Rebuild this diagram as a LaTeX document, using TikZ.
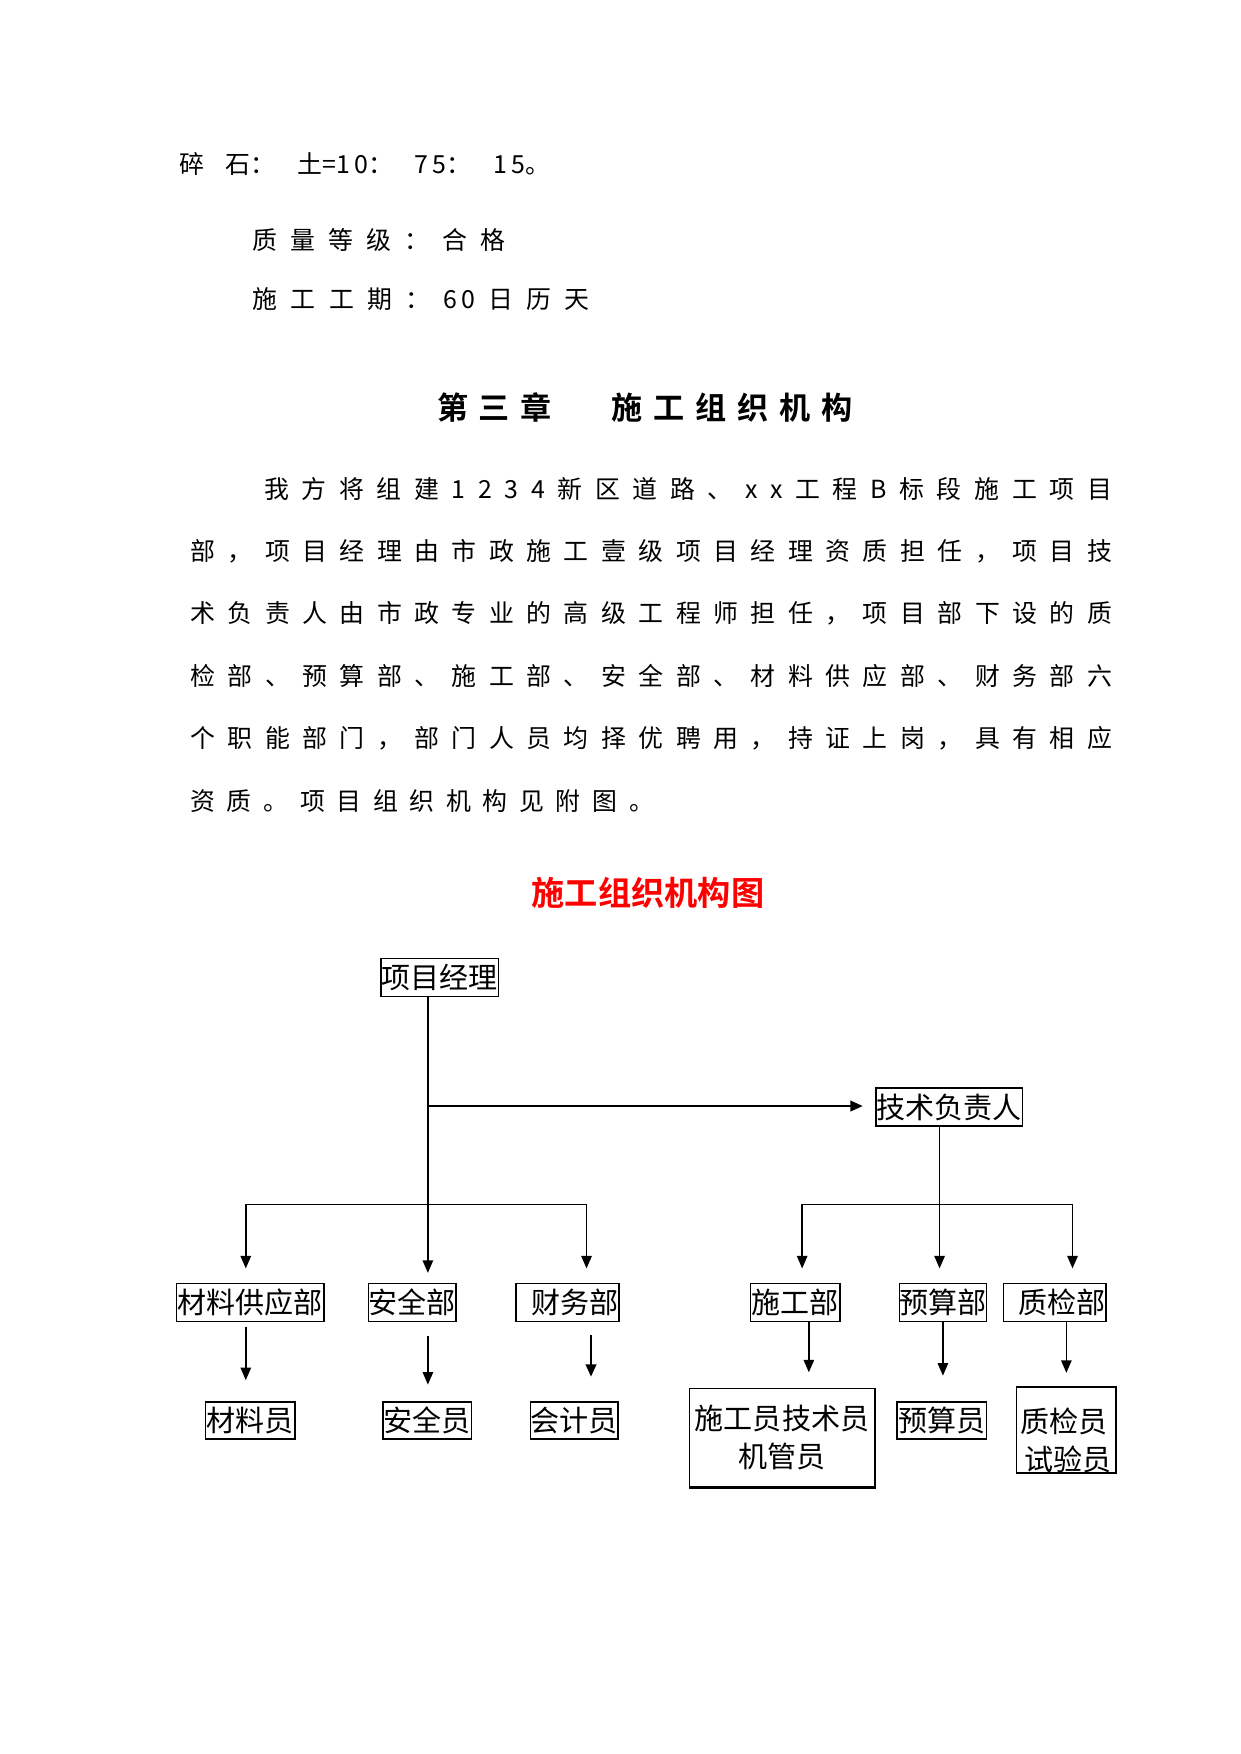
\documentclass[tikz,border=0pt]{standalone}
\usepackage{fontspec}
\usetikzlibrary{arrows.meta}
\newfontfamily\cjk{Noto Sans CJK SC}[BoldFont={Noto Sans CJK SC Bold}]
\newlength\pxu
\setlength\pxu{0.5383pt}
% spread the characters of one line over a given width
\def\spreadtxt#1{\spreadA#1\relax}
\def\spreadA#1{#1\spreadB}
\def\spreadB#1{\ifx\relax#1\else\hfil#1\expandafter\spreadB\fi}
\newcommand{\tline}[2]{\makebox[#1\pxu][s]{\spreadtxt{#2}}}

\begin{document}
\begin{tikzpicture}[x=0.5383pt, y=-0.5383pt,
  body/.style={anchor=west, inner sep=0pt, font=\cjk\fontsize{12}{14}\selectfont},
  head/.style={anchor=west, inner sep=0pt, font=\cjk\bfseries\fontsize{15}{17}\selectfont},
  box/.style={draw, line width=0.7pt, inner sep=0pt, minimum height=34\pxu, font=\cjk\fontsize{14}{18.3}\selectfont},
  arr/.style={line width=0.7pt, -{Triangle[length=6pt,width=5pt]}}]
      \useasboundingbox (0,0) rectangle (1110,1570);
      % text
      \node[body] (t1) at (160,147) {\tline{332}{碎{石：}{土=1\,0：}{7\,5：}{1\,5。}}};
      \node[body] (t2) at (226,215) {\tline{226}{质量等级：合格}};
      \node[body] (t3) at (226,268) {\tline{301}{施工工期：{6\,0}日历天}};
      \node[head] (h1) at (391,365) {\tline{102}{第三章}};
      \node[head] (h2) at (547,365) {\tline{216}{施工组织机构}};
      \node[body] (p1) at (236,438) {\tline{759}{我方将组建1234新区道路、xx工程B标段施工项目}};
      \node[body] (p2) at (170,493) {\tline{825}{部，项目经理由市政施工壹级项目经理资质担任，项目技}};
      \node[body] (p3) at (170,549) {\tline{825}{术负责人由市政专业的高级工程师担任，项目部下设的质}};
      \node[body] (p4) at (170,605) {\tline{825}{检部、预算部、施工部、安全部、材料供应部、财务部六}};
      \node[body] (p5) at (170,661) {\tline{825}{个职能部门，部门人员均择优聘用，持证上岗，具有相应}};
      \node[body] (p6) at (170,717) {\tline{415}{资质。项目组织机构见附图。}};
      \node[inner sep=0pt, text=red, font=\cjk\bfseries\fontsize{16}{18}\selectfont] (title) at (580,799) {施工组织机构图};
      % chart boxes
      \node[box, minimum width=105\pxu] (pm) at (393.5,875) {项目经理};
      \node[box, minimum width=131\pxu] (tech) at (849.5,991) {技术负责人};
      \node[box, minimum width=132\pxu] (clb) at (224,1166) {材料供应部};
      \node[box, minimum width=78\pxu] (aqb) at (369,1166) {安全部};
      \node[box, minimum width=92\pxu] (cwb) at (508,1166) {\hspace{0.5em}财务部};
      \node[box, minimum width=80\pxu] (sgb) at (712,1166) {施工部};
      \node[box, minimum width=78\pxu] (ysb) at (844,1166) {预算部};
      \node[box, minimum width=92\pxu] (zjb) at (944,1166) {\hspace{0.5em}质检部};
      \node[box, minimum width=80\pxu, minimum height=33\pxu] (cly) at (224,1271.5) {材料员};
      \node[box, minimum width=79\pxu, minimum height=33\pxu] (aqy) at (382.5,1271.5) {安全员};
      \node[box, minimum width=78\pxu, minimum height=33\pxu] (kjy) at (514,1271.5) {会计员};
      \node[box, minimum width=166\pxu, minimum height=88\pxu, align=center] (sgy) at (700,1287) {施工员技术员\\机管员};
      \node[box, minimum width=80\pxu, minimum height=33\pxu] (ysy) at (843,1271.5) {预算员};
      \node[box, minimum width=89\pxu, minimum height=74\pxu, align=left] (zjy) at (954.5,1280) {\rule{0pt}{22pt}质检员\\\hspace{2pt}试验员};
      \draw[line width=1.6pt] (sgy.south west) -- (sgy.south east);
      % connectors
      \coordinate (j0) at (383,990);
      \coordinate (j1) at (383,1078);
      \coordinate (j2) at (841,1078);
      \coordinate (b1) at (220,1078);
      \coordinate (b3) at (525,1078);
      \coordinate (b4) at (718,1078);
      \coordinate (b6) at (960,1078);
      \draw[line width=0.7pt] (pm.south -| j1) -- (j1);
      \draw[arr, line width=1.2pt, shorten >=11\pxu] (j0) -- (j0 -| tech.west);
      \draw[line width=0.7pt] (b1) -- (b3);
      \draw[line width=0.7pt] (tech.south -| j2) -- (j2);
      \draw[line width=0.7pt] (b4) -- (b6);
      \draw[arr, shorten >=13\pxu] (b1) -- (b1 |- clb.north);
      \draw[arr, shorten >=9\pxu] (j1) -- (j1 |- aqb.north);
      \draw[arr, shorten >=13\pxu] (b3) -- (b3 |- cwb.north);
      \draw[arr, shorten >=13\pxu] (b4) -- (b4 |- sgb.north);
      \draw[arr, shorten >=13\pxu] (j2) -- (j2 |- ysb.north);
      \draw[arr, shorten >=13\pxu] (b6) -- (b6 |- zjb.north);
      \draw[arr, shorten <=4\pxu, shorten >=19\pxu] (clb.south -| b1) -- (b1 |- cly.north);
      \draw[arr, shorten <=12\pxu, shorten >=15\pxu] (aqb.south -| j1) -- (j1 |- aqy.north);
      \draw[arr, line width=1.3pt, shorten <=11\pxu, shorten >=22\pxu] ([xshift=15\pxu]kjy.north |- cwb.south) -- ([xshift=15\pxu]kjy.north);
      \draw[arr, shorten >=14\pxu] ([xshift=12\pxu]sgb.south) -- ([xshift=24\pxu]sgy.north);
      \draw[arr, shorten >=23\pxu] (ysb.south) -- (ysb.south |- ysy.north);
      \draw[arr, shorten >=12\pxu] (zjy.north |- zjb.south) -- (zjy.north);
\end{tikzpicture}
\end{document}
